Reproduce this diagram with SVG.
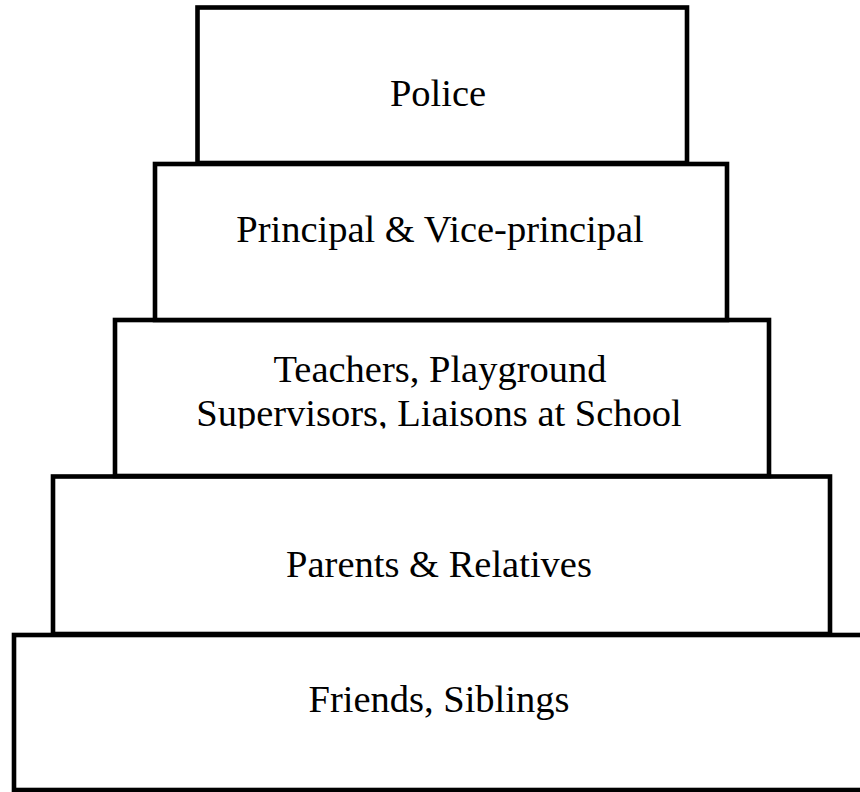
<svg xmlns="http://www.w3.org/2000/svg" width="860" height="792" viewBox="0 0 860 792">
  <style>
    .tier { fill: #ffffff; stroke: #000000; stroke-width: 4.6; }
    .label { font-family: "Liberation Serif", "Times New Roman", serif; font-size: 38.5px; fill: #000000; text-anchor: middle; }
  </style>
  <defs>
    <!-- the second line of the middle tier is cut off just below its baseline -->
    <clipPath id="tier3-clip">
      <rect x="0" y="0" width="860" height="428.5"/>
    </clipPath>
  </defs>
  <rect width="860" height="792" fill="#ffffff"/>

  <g id="tier-friends">
    <rect class="tier" x="14" y="635" width="880" height="155"/>
    <text class="label" x="439" y="712">Friends, Siblings</text>
  </g>

  <g id="tier-parents">
    <rect class="tier" x="53" y="476.5" width="777" height="157.5"/>
    <text class="label" x="439" y="577">Parents &amp; Relatives</text>
  </g>

  <g id="tier-teachers">
    <rect class="tier" x="115" y="320" width="654" height="156"/>
    <g clip-path="url(#tier3-clip)">
      <text class="label" x="440" y="381.5">Teachers, Playground</text>
      <text class="label" x="439" y="426">Supervisors, Liaisons at School</text>
    </g>
  </g>

  <g id="tier-principal">
    <rect class="tier" x="155" y="164" width="572" height="156"/>
    <text class="label" x="440" y="241.5">Principal &amp; Vice-principal</text>
  </g>

  <g id="tier-police">
    <rect class="tier" x="197.5" y="7.5" width="489.5" height="155.5"/>
    <text class="label" x="438" y="106">Police</text>
  </g>

  <g id="connectors"></g>
</svg>
